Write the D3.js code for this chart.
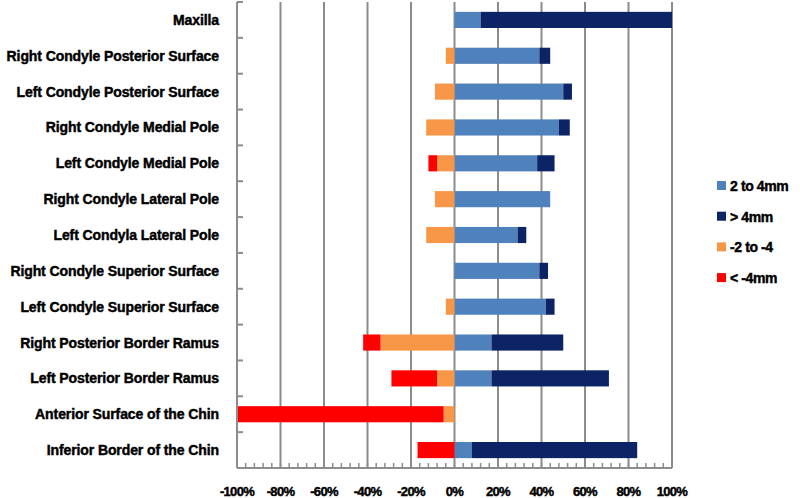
<!DOCTYPE html>
<html>
<head>
<meta charset="utf-8">
<script src="https://cdn.jsdelivr.net/npm/d3@7"></script>
<style>
  body { margin: 0; background: #fff; }
  svg text { font-family: "Liberation Sans", Arial, sans-serif; font-weight: bold; fill: #000; stroke: #000; stroke-width: 0.45; }
</style>
</head>
<body>
<div id="chart"></div>
<script>
const categories = ["Maxilla", "Right Condyle Posterior Surface", "Left Condyle Posterior Surface",
  "Right Condyle Medial Pole", "Left Condyle Medial Pole", "Right Condyle Lateral Pole",
  "Left Condyla Lateral Pole", "Right Condyle Superior Surface", "Left Condyle Superior Surface",
  "Right Posterior Border Ramus", "Left Posterior Border Ramus", "Anterior Surface of the Chin",
  "Inferior Border of the Chin"];

// percentages per series
const light = [12, 39, 50, 48, 38, 44, 29, 39, 42, 17, 17, 0, 8];     // 2 to 4mm
const dark = [88, 5, 4, 5, 8, 0, 4, 4, 4, 33, 54, 0, 76];             // > 4mm
const orange = [0, -4, -9, -13, -8, -9, -13, 0, -4, -34, -8, -5, 0];  // -2 to -4
const red = [0, 0, 0, 0, -4, 0, 0, 0, 0, -8, -21, -95, -17];          // < -4mm

const seriesNames = ["2 to 4mm", "> 4mm", "-2 to -4", "< -4mm"];
const seriesColors = ["#4f81bd", "#0c2366", "#f79646", "#ff0000"];
const xTicks = [-100, -80, -60, -40, -20, 0, 20, 40, 60, 80, 100];

const W = 800, H = 498;
const margin = {top: 2, left: 237, right: 128, bottom: 30};
const svg = d3.select("#chart").append("svg").attr("width", W).attr("height", H);

const x = d3.scaleLinear().domain([-100, 100]).range([margin.left, W - margin.right]);
const y = d3.scaleBand().domain(categories).range([margin.top, H - margin.bottom]).paddingInner(0.55).paddingOuter(0.275);
const yb = d3.scaleBand().domain(categories).range([margin.top, H - margin.bottom]);

// gridlines
svg.append("g").selectAll("line").data(xTicks.slice(1)).enter().append("line")
  .attr("x1", d => x(d)).attr("x2", d => x(d))
  .attr("y1", margin.top).attr("y2", H - margin.bottom)
  .attr("stroke", "#8c8c8c").attr("stroke-width", 2);

// build stacked segments
const segs = [];
categories.forEach((c, i) => {
  segs.push({c, s: 0, x0: 0, x1: light[i]});
  segs.push({c, s: 1, x0: light[i], x1: light[i] + dark[i]});
  segs.push({c, s: 2, x0: 0, x1: orange[i]});
  segs.push({c, s: 3, x0: orange[i], x1: orange[i] + red[i]});
});

svg.append("g").selectAll("rect").data(segs.filter(d => d.x0 !== d.x1)).enter().append("rect")
  .attr("x", d => x(Math.min(d.x0, d.x1)))
  .attr("width", d => Math.abs(x(d.x1) - x(d.x0)))
  .attr("y", d => y(d.c))
  .attr("height", y.bandwidth())
  .attr("fill", d => seriesColors[d.s]);

// left axis with inward ticks at band boundaries
const ax = svg.append("g").attr("stroke", "#8c8c8c").attr("stroke-width", 2);
ax.append("line").attr("x1", x(-100)).attr("x2", x(-100)).attr("y1", margin.top).attr("y2", H - margin.bottom);
ax.selectAll(".yt").data(categories).enter().append("line")
  .attr("x1", x(-100)).attr("x2", x(-100) + 6)
  .attr("y1", d => yb(d)).attr("y2", d => yb(d));

// bottom axis
const yAxis = H - margin.bottom;
ax.append("line").attr("x1", x(-100)).attr("x2", x(100)).attr("y1", yAxis).attr("y2", yAxis);
const minor = d3.range(-100, 101, 4);
ax.selectAll(".mt").data(minor).enter().append("line")
  .attr("x1", d => x(d)).attr("x2", d => x(d))
  .attr("y1", yAxis).attr("y2", yAxis - 5)
  .attr("stroke-width", 1.5);

svg.append("g").selectAll("text").data(xTicks).enter().append("text")
  .attr("x", d => x(d)).attr("y", yAxis + 28)
  .attr("text-anchor", "middle")
  .attr("font-size", 13).attr("letter-spacing", -0.7)
  .text(d => d + "%");

// category labels
svg.append("g").selectAll("text").data(categories).enter().append("text")
  .attr("x", 219).attr("y", d => yb(d) + yb.bandwidth() / 2 + 5)
  .attr("text-anchor", "end")
  .attr("font-size", 14).attr("letter-spacing", -0.1)
  .text(d => d);

// legend
const leg = svg.append("g").selectAll("g").data(seriesNames).enter().append("g")
  .attr("transform", (d, i) => `translate(717,${186 + i * 30.7})`);
leg.append("rect").attr("x", 0).attr("y", -5).attr("width", 9).attr("height", 9)
  .attr("fill", (d, i) => seriesColors[i]);
leg.append("text").attr("x", 13).attr("y", 5)
  .attr("font-size", 14).attr("letter-spacing", -0.4)
  .text(d => d);
</script>
</body>
</html>
